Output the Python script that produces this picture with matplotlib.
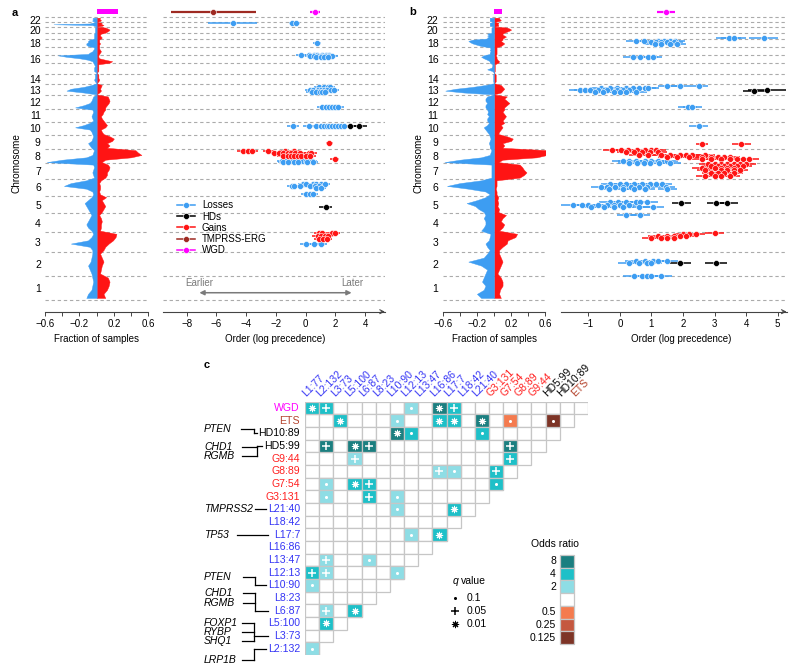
import numpy as np
import matplotlib
matplotlib.use('Agg')
import matplotlib.pyplot as plt
from matplotlib.patches import Rectangle
from matplotlib.lines import Line2D

plt.rcParams['font.family'] = ['Liberation Sans', 'DejaVu Sans']

# ---------------- data ----------------
CHROM_LEN = [249, 243, 198, 191, 181, 171, 159, 146, 141, 136, 135, 134,
             115, 107, 103, 90, 81, 78, 59, 63, 48, 51]
CHROM_LABELS = ['1', '2', '3', '4', '5', '6', '7', '8', '9', '10', '11', '12',
                '13', '14', '', '16', '', '18', '', '20', '', '22']

# fraction of samples, 6 bins per chromosome (p -> q)
A_GAIN = [[0.10, 0.08, 0.12, 0.14, 0.15, 0.13], [0.04, 0.05, 0.06, 0.08, 0.06, 0.04],
          [0.08, 0.10, 0.14, 0.19, 0.22, 0.23], [0.04, 0.05, 0.05, 0.06, 0.05, 0.03],
          [0.06, 0.08, 0.10, 0.08, 0.06, 0.11], [0.04, 0.03, 0.04, 0.04, 0.03, 0.05],
          [0.10, 0.12, 0.12, 0.14, 0.15, 0.13], [0.06, 0.10, 0.40, 0.52, 0.48, 0.45],
          [0.12, 0.15, 0.12, 0.18, 0.20, 0.15], [0.08, 0.06, 0.05, 0.10, 0.12, 0.10],
          [0.08, 0.06, 0.05, 0.07, 0.08, 0.10], [0.10, 0.12, 0.14, 0.15, 0.14, 0.13],
          [0.00, 0.03, 0.05, 0.04, 0.05, 0.06], [0.00, 0.02, 0.03, 0.02, 0.02, 0.02],
          [0.00, 0.02, 0.02, 0.02, 0.02, 0.02], [0.15, 0.18, 0.10, 0.03, 0.02, 0.02],
          [0.03, 0.04, 0.05, 0.04, 0.03, 0.03], [0.03, 0.03, 0.04, 0.03, 0.03, 0.03],
          [0.05, 0.06, 0.05, 0.04, 0.04, 0.05], [0.10, 0.12, 0.14, 0.15, 0.13, 0.10],
          [0.00, 0.06, 0.08, 0.06, 0.05, 0.06], [0.00, 0.04, 0.05, 0.04, 0.03, 0.04]]
A_LOSS = [[-0.12, -0.10, -0.06, -0.05, -0.04, -0.05], [-0.06, -0.08, -0.10, -0.07, -0.06, -0.05],
          [-0.05, -0.08, -0.30, -0.10, -0.06, -0.04], [-0.06, -0.10, -0.12, -0.10, -0.08, -0.06],
          [-0.08, -0.10, -0.12, -0.14, -0.10, -0.06], [-0.04, -0.05, -0.12, -0.38, -0.30, -0.12],
          [-0.03, -0.04, -0.05, -0.04, -0.03, -0.04], [-0.58, -0.40, -0.12, -0.05, -0.04, -0.03],
          [-0.06, -0.08, -0.10, -0.06, -0.05, -0.04], [-0.05, -0.06, -0.08, -0.25, -0.15, -0.08],
          [-0.04, -0.05, -0.06, -0.05, -0.04, -0.05], [-0.25, -0.15, -0.08, -0.06, -0.05, -0.04],
          [0.00, -0.15, -0.35, -0.30, -0.15, -0.06], [0.00, -0.02, -0.03, -0.02, -0.02, -0.02],
          [0.00, -0.03, -0.03, -0.03, -0.02, -0.03], [-0.04, -0.05, -0.10, -0.20, -0.35, -0.45],
          [-0.10, -0.08, -0.05, -0.04, -0.03, -0.03], [-0.10, -0.12, -0.12, -0.10, -0.10, -0.08],
          [-0.03, -0.03, -0.03, -0.03, -0.03, -0.03], [-0.02, -0.02, -0.02, -0.02, -0.02, -0.02],
          [0.00, -0.03, -0.05, -0.50, -0.08, -0.05], [0.00, -0.05, -0.05, -0.04, -0.05, -0.04]]
B_GAIN = [[0.08, 0.06, 0.07, 0.10, 0.10, 0.08], [0.04, 0.06, 0.08, 0.10, 0.08, 0.06],
          [0.06, 0.10, 0.15, 0.16, 0.25, 0.27], [0.06, 0.10, 0.12, 0.08, 0.10, 0.14],
          [0.05, 0.06, 0.04, 0.05, 0.04, 0.05], [0.03, 0.03, 0.02, 0.03, 0.03, 0.03],
          [0.30, 0.35, 0.38, 0.35, 0.33, 0.30], [0.05, 0.10, 0.50, 0.62, 0.66, 0.62],
          [0.10, 0.12, 0.10, 0.20, 0.22, 0.15], [0.05, 0.06, 0.08, 0.10, 0.08, 0.12],
          [0.10, 0.12, 0.14, 0.12, 0.10, 0.12], [0.12, 0.15, 0.18, 0.15, 0.12, 0.15],
          [0.00, 0.08, 0.10, 0.12, 0.10, 0.08], [0.00, 0.02, 0.02, 0.02, 0.02, 0.02],
          [0.00, 0.01, 0.01, 0.01, 0.01, 0.01], [0.05, 0.06, 0.04, 0.03, 0.03, 0.02],
          [0.03, 0.03, 0.03, 0.03, 0.03, 0.03], [0.08, 0.10, 0.12, 0.10, 0.08, 0.10],
          [0.10, 0.12, 0.14, 0.12, 0.10, 0.10], [0.12, 0.15, 0.18, 0.20, 0.18, 0.15],
          [0.00, 0.05, 0.05, 0.04, 0.05, 0.05], [0.00, 0.06, 0.08, 0.07, 0.06, 0.06]]
B_LOSS = [[-0.15, -0.20, -0.12, -0.10, -0.14, -0.12], [-0.10, -0.08, -0.15, -0.30, -0.12, -0.08],
          [-0.05, -0.08, -0.10, -0.06, -0.05, -0.04], [-0.15, -0.12, -0.10, -0.10, -0.12, -0.10],
          [-0.12, -0.18, -0.22, -0.32, -0.20, -0.10], [-0.05, -0.10, -0.30, -0.55, -0.40, -0.15],
          [-0.03, -0.03, -0.03, -0.03, -0.03, -0.03], [-0.58, -0.40, -0.15, -0.05, -0.04, -0.03],
          [-0.05, -0.05, -0.06, -0.05, -0.04, -0.05], [-0.06, -0.08, -0.10, -0.12, -0.08, -0.06],
          [-0.08, -0.08, -0.06, -0.08, -0.07, -0.08], [-0.10, -0.10, -0.08, -0.10, -0.10, -0.08],
          [0.00, -0.35, -0.57, -0.45, -0.25, -0.10], [0.00, -0.01, -0.01, -0.01, -0.01, -0.01],
          [0.00, -0.02, -0.08, -0.03, -0.02, -0.02], [-0.05, -0.05, -0.08, -0.12, -0.15, -0.12],
          [-0.05, -0.05, -0.04, -0.05, -0.04, -0.05], [-0.15, -0.20, -0.25, -0.28, -0.30, -0.25],
          [-0.08, -0.08, -0.06, -0.08, -0.06, -0.08], [-0.03, -0.03, -0.03, -0.03, -0.03, -0.03],
          [0.00, -0.05, -0.05, -0.05, -0.05, -0.05], [0.00, -0.05, -0.05, -0.05, -0.05, -0.05]]
A_WGD_FRAC = 0.25
B_WGD_FRAC = 0.09

# timing events: (chromosome, position Mb, half error, [order values])
A_LOSSES = [(21, 40, 1.65, [-4.9]), (21, 40, 0.25, [-0.9]), (21, 38, 0.25, [-0.65]),
            (18, 41, 0.28, [0.75]),
            (16, 86, 0.35, [-0.3, 0.25, 0.55, 0.75, 1.1, 1.35, 1.55]),
            (16, 78, 0.35, [0.3, 0.55, 0.85, 1.05, 1.3, 1.6, 1.8]),
            (16, 70, 0.35, [0.7, 1.0, 1.25, 1.5]),
            (13, 82, 0.35, [0.9, 1.2, 1.5, 1.65]),
            (13, 55, 0.35, [0.3, 0.5, 0.8, 1.0, 1.2, 1.4, 1.7, 1.9]),
            (13, 30, 0.35, [0.4, 0.7, 0.95, 1.1, 1.3]),
            (12, 13, 0.35, [1.1, 1.35, 1.6, 1.8, 1.95, 2.2]),
            (10, 93, 0.4, [-0.85, 0.2, 0.7, 1.0, 1.2, 1.4, 1.6, 1.8, 2.0, 2.2, 2.4, 2.6]),
            (8, 20, 0.35, [-1.6, -1.3, -1.1, -0.9, -0.6, -0.4, -0.2, 0.0, 0.2, 0.4]),
            (8, 12, 0.35, [-1.5, -1.2, -0.8, -0.5, 0.1, 0.5]),
            (6, 120, 0.35, [-0.2, 0.0, 0.5, 0.7, 1.0, 1.3]),
            (6, 99, 0.35, [-0.9, -0.8, -0.4, 0.3, 0.6, 0.9]),
            (6, 75, 0.35, [0.7, 1.0]),
            (6, 14, 0.3, [0.0, 0.3, 0.5]),
            (3, 78, 0.35, [0.0, 0.55, 1.05])]
A_HDS = [(10, 89, 0.5, [2.95]), (10, 89, 0.55, [3.6]), (5, 63, 0.45, [1.35])]
A_GAINS = [(9, 58, 0.25, [1.6]),
           (8, 129, 0.4, [-4.2, -3.9, -3.6, -2.5, -1.4, -0.8]),
           (8, 100, 0.4, [-2.1, -1.8, -1.5, -1.2, -1.0, -0.7, -0.4, 0.2, 0.35]),
           (8, 75, 0.4, [-1.5, -1.2, -1.0, -0.8, -0.5, -0.3, 0.0, 0.3]),
           (8, 44, 0.3, [1.95]),
           (3, 187, 0.35, [0.9, 1.1, 1.75, 1.95]),
           (3, 160, 0.35, [0.8, 1.0, 1.3, 1.5]),
           (3, 133, 0.35, [0.9, 1.15, 1.4])]
A_ERG = (-6.2, 2.87)
A_WGD = (0.65, 0.33)

B_LOSSES = [(19, 8, 0.4, [3.45, 3.6]), (19, 8, 0.45, [4.55]),
            (18, 62, 0.3, [0.5, 0.75, 1.2, 1.4, 1.6, 1.75]),
            (18, 48, 0.3, [1.0, 1.15, 1.3, 1.5, 1.7]),
            (18, 31, 0.3, [1.1, 1.3, 1.6, 1.8]),
            (16, 70, 0.3, [0.4, 0.65, 0.9, 1.05]),
            (13, 99, 0.3, [1.5, 1.9, 2.5]),
            (13, 72, 0.35, [-0.6, -0.3, -0.1, 0.2, 0.4, 0.6, 0.8, 0.9]),
            (13, 55, 0.35, [-1.25, -1.1, -0.95, -0.7, -0.5, -0.4, -0.1, 0.1, 0.3]),
            (13, 35, 0.35, [-0.8, -0.55, -0.2, 0.0, 0.2, 0.5]),
            (12, 13, 0.3, [2.15, 2.3]),
            (10, 93, 0.3, [2.5]),
            (8, 24, 0.35, [0.1, 0.3, 0.5, 0.8, 1.0, 1.2, 1.5]),
            (8, 8, 0.35, [0.3, 0.55, 0.75, 0.95, 1.25, 1.6]),
            (6, 116, 0.3, [-0.3, 0.0, 0.2, 0.45, 0.7, 0.95, 1.15, 1.35]),
            (6, 92, 0.3, [-0.6, -0.4, -0.15, 0.1, 0.35, 0.6, 0.85, 1.45]),
            (6, 71, 0.3, [-0.35, 0.1, 0.45, 0.8, 1.5]),
            (5, 118, 0.35, [-0.3, -0.05, 0.2, 0.5, 0.65, 0.85]),
            (5, 90, 0.35, [-1.5, -1.2, -1.0, -0.7, -0.4, -0.2, 0.0, 0.3]),
            (5, 63, 0.35, [-0.9, -0.5, -0.2, 0.1, 0.6, 1.05]),
            (4, 176, 0.3, [0.2, 0.65]),
            (2, 152, 0.35, [0.5, 0.8, 1.05, 1.2, 1.5]),
            (2, 131, 0.35, [0.3, 0.6, 0.85, 1.0]),
            (1, 240, 0.35, [0.45, 0.7, 0.85, 1.0, 1.3])]
B_HDS = [(13, 45, 0.35, [4.25]), (13, 50, 0.6, [4.65]), (5, 105, 0.3, [1.95, 3.05]),
         (5, 105, 0.35, [3.4]), (2, 131, 0.35, [1.9, 3.05])]
B_GAINS = [(9, 51, 0.2, [2.6]), (9, 51, 0.3, [3.85]),
           (8, 136, 0.3, [-0.25, 0.05, 0.25, 0.55, 0.8, 1.0, 1.15]),
           (8, 119, 0.3, [0.2, 0.45, 0.7, 0.95, 1.2]),
           (8, 82, 0.3, [0.6, 0.9, 1.3, 1.6, 1.9, 2.1, 2.3, 2.7]),
           (8, 62, 0.3, [1.5, 1.8, 2.2, 2.6, 2.9, 3.1, 3.3, 3.5]),
           (8, 41, 0.3, [2.6, 2.9, 3.2, 3.5, 3.7, 3.9, 4.1]),
           (7, 155, 0.3, [2.8, 3.0, 3.2, 3.4, 3.6, 3.8, 4.0]),
           (7, 135, 0.3, [2.9, 3.1, 3.3, 3.5, 3.7, 3.9]),
           (7, 109, 0.3, [2.6, 3.0, 3.2, 3.4, 3.6]),
           (7, 92, 0.25, [2.7, 3.2, 3.4, 3.6, 3.8]),
           (7, 58, 0.3, [2.9, 3.1, 3.3, 3.6]),
           (7, 30, 0.3, [2.7, 3.0, 3.2, 3.5]),
           (3, 186, 0.3, [3.0]),
           (3, 180, 0.3, [2.0, 2.2, 2.4]),
           (3, 160, 0.3, [1.2, 1.5, 1.7, 1.9, 2.1]),
           (3, 136, 0.3, [1.0, 1.3, 1.5, 1.7])]
B_WGD = (1.46, 0.28)

# panel c
COL_LABELS = ['L1:77', 'L2:132', 'L3:73', 'L5:100', 'L6:87', 'L8:23', 'L10:90', 'L12:13',
              'L13:47', 'L16:86', 'L17:7', 'L18:42', 'L21:40', 'G3:131', 'G7:54', 'G8:89',
              'G9:44', 'HD5:99', 'HD10:89', 'ETS']
ROW_LABELS = ['WGD', 'ETS', 'HD10:89', 'HD5:99', 'G9:44', 'G8:89', 'G7:54', 'G3:131',
              'L21:40', 'L18:42', 'L17:7', 'L16:86', 'L13:47', 'L12:13', 'L10:90', 'L8:23',
              'L6:87', 'L5:100', 'L3:73', 'L2:132']
# (row, column, odds ratio, q value)
SIG_CELLS = [('WGD', 'L1:77', 4, 0.01), ('WGD', 'L2:132', 4, 0.05), ('WGD', 'L12:13', 2, 0.1),
             ('WGD', 'L16:86', 8, 0.01), ('WGD', 'L17:7', 4, 0.05),
             ('ETS', 'L3:73', 4, 0.01), ('ETS', 'L10:90', 2, 0.1), ('ETS', 'L16:86', 4, 0.01),
             ('ETS', 'L17:7', 4, 0.01), ('ETS', 'L21:40', 8, 0.01), ('ETS', 'G7:54', 0.5, 0.1),
             ('ETS', 'HD5:99', 0.125, 0.1),
             ('HD10:89', 'L10:90', 8, 0.01), ('HD10:89', 'L12:13', 4, 0.1), ('HD10:89', 'L21:40', 4, 0.1),
             ('HD5:99', 'L2:132', 8, 0.05), ('HD5:99', 'L5:100', 8, 0.01), ('HD5:99', 'L6:87', 8, 0.05),
             ('HD5:99', 'G7:54', 8, 0.05),
             ('G9:44', 'L5:100', 2, 0.05), ('G9:44', 'G7:54', 4, 0.05),
             ('G8:89', 'L16:86', 2, 0.05), ('G8:89', 'L17:7', 2, 0.1), ('G8:89', 'G3:131', 4, 0.05),
             ('G7:54', 'L2:132', 2, 0.1), ('G7:54', 'L5:100', 4, 0.01), ('G7:54', 'L6:87', 4, 0.05),
             ('G7:54', 'G3:131', 4, 0.1),
             ('G3:131', 'L2:132', 2, 0.1), ('G3:131', 'L6:87', 4, 0.05), ('G3:131', 'L10:90', 2, 0.1),
             ('L21:40', 'L10:90', 2, 0.1), ('L21:40', 'L17:7', 4, 0.01),
             ('L17:7', 'L12:13', 2, 0.1), ('L17:7', 'L16:86', 4, 0.01),
             ('L13:47', 'L2:132', 2, 0.05), ('L13:47', 'L6:87', 2, 0.1),
             ('L12:13', 'L1:77', 4, 0.05), ('L12:13', 'L2:132', 2, 0.05), ('L12:13', 'L10:90', 2, 0.1),
             ('L10:90', 'L1:77', 2, 0.1),
             ('L6:87', 'L2:132', 2, 0.05), ('L6:87', 'L5:100', 4, 0.01),
             ('L5:100', 'L2:132', 4, 0.01),
             ('L2:132', 'L1:77', 2, 0.1)]
OR_LEVELS = [8, 4, 2, 1, 0.5, 0.25, 0.125]
OR_TICKLABELS = ['8', '4', '2', '', '0.5', '0.25', '0.125']
Q_LEVELS = [0.1, 0.05, 0.01]
GENE_NOTES = [(['PTEN'], 'HD10:89'), (['CHD1', 'RGMB'], 'HD5:99'), (['TMPRSS2'], 'L21:40'),
              (['TP53'], 'L17:7'), (['PTEN'], 'L10:90'), (['CHD1', 'RGMB'], 'L6:87'),
              (['FOXP1', 'RYBP', 'SHQ1'], 'L3:73'), (['LRP1B'], 'L2:132')]

# ---------------- style ----------------
BLUE = '#3d9df2'
RED = '#ff1414'
DARKRED = '#9e2a22'
MAGENTA = '#ff00ff'
LBLUE = '#3535f5'
LRED = '#ff2020'
ETSC = '#b5452f'
GRID = '#c6c6c6'
OR_COLORS = {8: '#1b7f80', 4: '#1ec0c8', 2: '#8edde5', 1: '#ffffff',
             0.5: '#f47b4f', 0.25: '#c5583f', 0.125: '#7d3426'}

W, H = 800, 670
fig = plt.figure(figsize=(W / 100, H / 100), dpi=100)


def px_axes(x0, y0, x1, y1):
    return fig.add_axes([x0 / W, 1 - y1 / H, (x1 - x0) / W, (y1 - y0) / H])


starts = np.concatenate([[0], np.cumsum(CHROM_LEN)[:-1]])
TOTAL = float(sum(CHROM_LEN))
PXMB = (300 - 17.3) / TOTAL
TOP_ROW = TOTAL + (17.3 - 11.7) / PXMB
Y_BOT = -(311.7 - 300) / PXMB
Y_TOP = TOTAL + (17.3 - 5) / PXMB
bounds = list(starts) + [TOTAL]
centers = [s + L / 2 for s, L in zip(starts, CHROM_LEN)]


def base(ax):
    ax.set_ylim(Y_BOT, Y_TOP)
    for s in ['left', 'top', 'right']:
        ax.spines[s].set_visible(False)
    ax.spines['bottom'].set_color('#444')
    ax.spines['bottom'].set_linewidth(0.8)
    ax.tick_params(axis='x', length=3, width=0.7, color='#444', labelsize=7, pad=2)
    for b in bounds:
        ax.axhline(b, color='#ababab', lw=0.8, ls=(0, (3, 2.5)), zorder=0)


def freq_panel(ax, gains, losses, wgd):
    base(ax)
    ys, g, l = [], [], []
    for c, L in enumerate(CHROM_LEN):
        n = len(gains[c])
        for k in range(n):
            ys.append(starts[c] + (k + 0.5) * L / n)
        g += gains[c]
        l += losses[c]
    ax.fill_betweenx(ys, 0, g, color=RED, lw=0.3, edgecolor=RED, zorder=2)
    ax.fill_betweenx(ys, 0, l, color=BLUE, lw=0.3, edgecolor=BLUE, zorder=2)
    ax.barh(TOP_ROW, wgd, height=48, left=0, color=MAGENTA, zorder=2)
    ax.set_xlim(-0.6, 0.6)
    ax.spines['bottom'].set_bounds(-0.6, 0.6)
    ax.set_xticks([-0.6, -0.4, -0.2, 0, 0.2, 0.4, 0.6])
    ax.set_xticklabels(['\u22120.6', '', '\u22120.2', '', '0.2', '', '0.6'])
    ax.set_yticks(centers)
    ax.set_yticklabels(CHROM_LABELS)
    ax.tick_params(axis='y', length=0, labelsize=7.5, pad=3)


def plot_events(ax, events, color):
    for chrom, pos, err, xs in events:
        y = starts[chrom - 1] + pos
        ax.errorbar(xs, [y] * len(xs), xerr=err, fmt='o', color=color, ms=4.3,
                    mec='white', mew=0.4, elinewidth=1.1, capsize=0, zorder=3)


def timing_panel(ax, xlim, ticks):
    base(ax)
    ax.set_xlim(*xlim)
    ax.set_xticks(ticks)
    ax.set_xticklabels([('\u2212%d' % -t) if t < 0 else '%d' % t for t in ticks])
    ax.set_yticks([])
    ax.annotate('', xy=(1.012, 0), xytext=(0.97, 0), xycoords='axes fraction',
                arrowprops=dict(arrowstyle='->', color='#444', lw=0.8, mutation_scale=7))


# panel a
axaf = px_axes(45, 5, 148.3, 311.7)
freq_panel(axaf, A_GAIN, A_LOSS, A_WGD_FRAC)
axat = px_axes(162.7, 5, 385, 311.7)
timing_panel(axat, (-9.61, 5.33), [-8, -6, -4, -2, 0, 2, 4])
plot_events(axat, A_LOSSES, BLUE)
plot_events(axat, A_HDS, 'black')
plot_events(axat, A_GAINS, RED)
axat.errorbar([A_ERG[0]], [TOP_ROW], xerr=A_ERG[1], fmt='o', color=DARKRED, ms=4.3,
              mec='white', mew=0.4, elinewidth=1.6, capsize=0)
axat.errorbar([A_WGD[0]], [TOP_ROW], xerr=A_WGD[1], fmt='o', color=MAGENTA, ms=4.3,
              mec='white', mew=0.4, elinewidth=1.6, capsize=0)
axat.annotate('', xy=(-7.33, 74), xytext=(3.27, 74),
              arrowprops=dict(arrowstyle='<|-|>', color='#7a7a7a', lw=1.1, mutation_scale=7))
axat.text(-7.16, 173, 'Earlier', color='#7a7a7a', fontsize=7, ha='center', va='center')
axat.text(3.1, 173, 'Later', color='#7a7a7a', fontsize=7, ha='center', va='center')
handles = [Line2D([0], [0], color=c, marker='o', ms=4.3, mec='white', mew=0.4, lw=1.1)
           for c in [BLUE, 'black', RED, DARKRED, MAGENTA]]
axat.legend(handles, ['Losses', 'HDs', 'Gains', 'TMPRSS-ERG', 'WGD'], loc='upper left',
            bbox_to_anchor=(176.7 / W, 1 - 200.5 / H), bbox_transform=fig.transFigure,
            frameon=False, fontsize=7, handlelength=1.9, handletextpad=0.7,
            labelspacing=0.12, borderpad=0, borderaxespad=0)

# panel b
axbf = px_axes(442.7, 5, 545.3, 311.7)
freq_panel(axbf, B_GAIN, B_LOSS, B_WGD_FRAC)
axbt = px_axes(560.7, 5, 786.7, 311.7)
timing_panel(axbt, (-1.875, 5.285), [-1, 0, 1, 2, 3, 4, 5])
plot_events(axbt, B_LOSSES, BLUE)
plot_events(axbt, B_HDS, 'black')
plot_events(axbt, B_GAINS, RED)
axbt.errorbar([B_WGD[0]], [TOP_ROW], xerr=B_WGD[1], fmt='o', color=MAGENTA, ms=4.3,
              mec='white', mew=0.4, elinewidth=1.6, capsize=0)

for x, t in [(97, 'Fraction of samples'), (275, 'Order (log precedence)'),
             (494, 'Fraction of samples'), (681, 'Order (log precedence)')]:
    fig.text(x / W, 1 - 339 / H, t, fontsize=7, ha='center', va='center')
for x in [17, 418]:
    fig.text(x / W, 1 - 163 / H, 'Chromosome', fontsize=7.2, rotation=90, ha='center', va='center')
fig.text(15 / W, 1 - 12.5 / H, 'a', fontsize=8, fontweight='bold', ha='center', va='center')
fig.text(413 / W, 1 - 12 / H, 'b', fontsize=8, fontweight='bold', ha='center', va='center')
fig.text(207 / W, 1 - 365 / H, 'c', fontsize=8, fontweight='bold', ha='center', va='center')


# panel c: matrix
def label_color(s):
    if s == 'WGD':
        return MAGENTA
    if s == 'ETS':
        return ETSC
    if s.startswith('HD'):
        return 'black'
    if s.startswith('G'):
        return LRED
    return LBLUE


def draw_q(ax, x, y, q, color, z=3):
    if q == 0.1:
        ax.plot(x, y, 'o', ms=2.2, color=color, mew=0, zorder=z)
    elif q == 0.05:
        ax.plot(x, y, '+', ms=5.6, mew=1.1, color=color, zorder=z)
    else:
        ax.plot(x, y, 'o', ms=3.2, color=color, mew=0, zorder=z)
        ax.plot(x, y, marker=(8, 2, 0), ms=5.2, mew=0.6, color=color, ls='', zorder=z)


CW, CH = 14.15, 12.67
MX0, MY0 = 305, 401.7
axm = px_axes(MX0, MY0, MX0 + CW * 20, MY0 + CH * 20)
axm.set_xlim(0, 20)
axm.set_ylim(20, 0)
axm.axis('off')
n = len(COL_LABELS)
row_texts = {}
for i, rl in enumerate(ROW_LABELS):
    for j in range(n - i):
        axm.add_patch(Rectangle((j, i), 1, 1, facecolor='white', edgecolor=GRID, lw=0.9, zorder=1))
    row_texts[rl] = axm.text(-0.35, i + 0.5, rl, color=label_color(rl), fontsize=7.6,
                             ha='right', va='center')
for j, cl in enumerate(COL_LABELS):
    axm.text(j + 0.2, -0.28, cl, color=label_color(cl), fontsize=7.5, rotation=45,
             rotation_mode='anchor', ha='left', va='bottom')
for rl, cl, orv, q in SIG_CELLS:
    i = ROW_LABELS.index(rl)
    j = COL_LABELS.index(cl)
    axm.add_patch(Rectangle((j, i), 1, 1, facecolor=OR_COLORS[orv], edgecolor=GRID, lw=0.9, zorder=2))
    draw_q(axm, j + 0.5, i + 0.5, q, 'white')

# overlay (pixel coordinates) for legends and gene annotations
ov = fig.add_axes([0, 0, 1, 1])
ov.set_xlim(0, W)
ov.set_ylim(H, 0)
ov.axis('off')

fig.canvas.draw()
renderer = fig.canvas.get_renderer()
label_left = {k: t.get_window_extent(renderer).x0 for k, t in row_texts.items()}


def row_y(label):
    return MY0 + CH * (ROW_LABELS.index(label) + 0.5)


NOTE_GENE_Y = [[428.7], [446.7, 455.7], None, None, [576.7], [593.3, 602.7],
               [623.3, 631.7, 640.7], [660.0]]
NOTE_X = [(240.5, 254), (241.5, 257), (255, None), (237, None), (243, 255), (243, 255),
          (241.5, 254), (241.5, 254)]
for (genes, lab), gy, (xa, xv) in zip(GENE_NOTES, NOTE_GENE_Y, NOTE_X):
    ry = row_y(lab)
    xend = min(267.5, label_left[lab] - 2.0)
    if gy is None:
        gy = [ry]
    for g, y in zip(genes, gy):
        ov.text(204, y, g, fontsize=7.5, style='italic', ha='left', va='center')
    lk = dict(color='black', lw=0.9)
    if xv is None:
        ov.plot([xa, xend], [ry, ry], **lk)
    else:
        for y in gy:
            ov.plot([xa, xv], [y, y], **lk)
        ov.plot([xv, xv], [min(gy + [ry]), max(gy + [ry])], **lk)
        ov.plot([xv, xend], [ry, ry], **lk)

# q value legend
ov.text(453, 580.7, 'q', fontsize=7.5, style='italic', ha='left', va='center')
ov.text(460.5, 580.7, 'value', fontsize=7.5, ha='left', va='center')
for k, q in enumerate(Q_LEVELS):
    y = 598.3 + 12.8 * k
    draw_q(ov, 455.3, y, q, 'black')
    ov.text(466.7, y, '%g' % q, fontsize=7.5, ha='left', va='center')

# odds ratio legend
ov.text(555, 543.7, 'Odds ratio', fontsize=7.5, ha='center', va='center')
for k, (v, t) in enumerate(zip(OR_LEVELS, OR_TICKLABELS)):
    y0 = 555 + 12.7 * k
    ov.add_patch(Rectangle((560, y0), 13.5, 12.7, facecolor=OR_COLORS[v], edgecolor=GRID, lw=0.9))
    ov.text(556, y0 + 6.35, t, fontsize=7.5, ha='right', va='center')

fig.savefig('out.png', dpi=100)
